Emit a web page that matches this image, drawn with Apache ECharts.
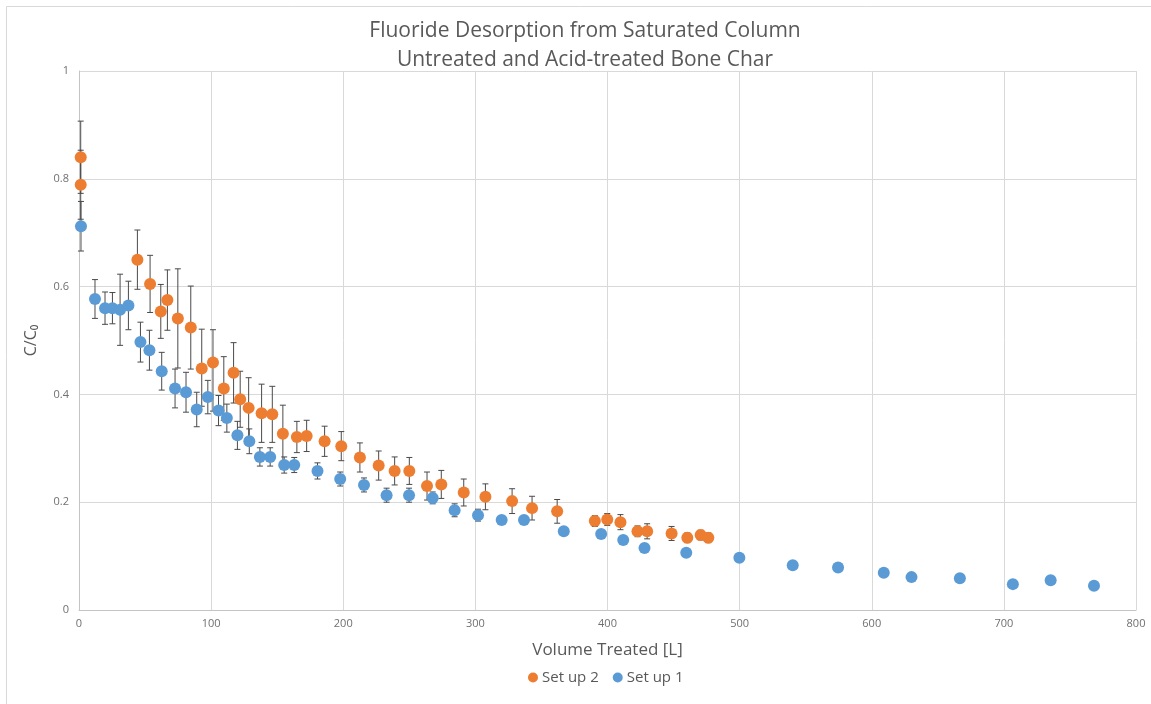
<!DOCTYPE html>
<html>
<head>
<meta charset="utf-8">
<title>Fluoride Desorption from Saturated Column</title>
<script src="https://cdn.jsdelivr.net/npm/echarts@6/dist/echarts.min.js"></script>
<style>
  html, body { margin: 0; padding: 0; background: #ffffff; }
  #chart { width: 1151px; height: 704px; }
</style>
</head>
<body>
<div id="chart"></div>
<script>
// Set up 1: volume treated [L], C/C0 and symmetric error
const setup1Volume = [1.5, 12.1, 19.7, 25.3, 31.1, 37.4, 46.5, 53.3, 62.6, 72.7,
  81.0, 89.1, 97.5, 105.6, 111.9, 119.9, 128.9, 136.9, 144.7, 155.3,
  162.9, 180.5, 197.7, 215.7, 232.8, 249.8, 267.7, 284.3, 302.0, 319.9,
  336.8, 366.9, 395.2, 411.9, 428.0, 459.6, 499.8, 540.2, 574.5, 609.1,
  630.1, 666.7, 706.8, 735.4, 768.2];
const setup1Ratio = [0.712, 0.577, 0.560, 0.560, 0.557, 0.565, 0.497, 0.482, 0.443, 0.411,
  0.404, 0.372, 0.395, 0.370, 0.356, 0.324, 0.313, 0.284, 0.284, 0.269,
  0.269, 0.258, 0.243, 0.232, 0.213, 0.213, 0.208, 0.185, 0.176, 0.167,
  0.167, 0.146, 0.141, 0.130, 0.115, 0.106, 0.097, 0.083, 0.079, 0.069,
  0.061, 0.059, 0.048, 0.055, 0.045];
const setup1Err = [0.046, 0.036, 0.030, 0.029, 0.066, 0.045, 0.037, 0.037, 0.035, 0.036,
  0.037, 0.032, 0.031, 0.028, 0.026, 0.026, 0.023, 0.017, 0.017, 0.015,
  0.014, 0.015, 0.013, 0.013, 0.013, 0.013, 0.011, 0.012, 0.011, 0.008,
  0.005, 0, 0, 0, 0, 0, 0, 0, 0, 0,
  0, 0, 0, 0, 0];

// Set up 2: volume treated [L], C/C0 and upper / lower error
const setup2Volume = [1.3, 1.3, 44.2, 53.8, 61.9, 66.9, 74.8, 84.6, 92.9, 101.4,
  109.6, 117.0, 122.0, 128.4, 138.2, 146.3, 154.3, 164.9, 172.3, 185.9,
  198.5, 212.6, 226.8, 238.9, 250.0, 263.4, 274.2, 291.2, 307.6, 327.8,
  342.9, 361.9, 390.4, 399.8, 409.8, 422.7, 430.0, 448.5, 460.4, 470.5,
  476.3];
const setup2Ratio = [0.840, 0.789, 0.650, 0.605, 0.554, 0.575, 0.541, 0.524, 0.448, 0.459,
  0.411, 0.440, 0.391, 0.375, 0.365, 0.363, 0.327, 0.321, 0.323, 0.313,
  0.304, 0.283, 0.268, 0.258, 0.258, 0.230, 0.233, 0.218, 0.210, 0.202,
  0.189, 0.183, 0.165, 0.168, 0.163, 0.146, 0.146, 0.142, 0.134, 0.139,
  0.134];
const setup2ErrUp = [0.067, 0.064, 0.055, 0.053, 0.050, 0.056, 0.092, 0.077, 0.073, 0.061,
  0.059, 0.056, 0.052, 0.056, 0.054, 0.052, 0.053, 0.029, 0.029, 0.028,
  0.027, 0.027, 0.027, 0.026, 0.025, 0.026, 0.026, 0.025, 0.024, 0.023,
  0.022, 0.022, 0.010, 0.011, 0.014, 0.010, 0.014, 0.013, 0.009, 0.009,
  0.009];
const setup2ErrDown = [0.067, 0.064, 0.055, 0.053, 0.050, 0.056, 0.092, 0.077, 0.070, 0.090,
  0.059, 0.056, 0.052, 0.056, 0.054, 0.052, 0.053, 0.029, 0.029, 0.028,
  0.027, 0.027, 0.027, 0.026, 0.025, 0.026, 0.026, 0.025, 0.024, 0.023,
  0.022, 0.022, 0.010, 0.011, 0.014, 0.010, 0.014, 0.013, 0.009, 0.009,
  0.009];

const xTicks = { min: 0, max: 800, interval: 100 };
const yTicks = { min: 0, max: 1, interval: 0.2 };

const titleLines = ['Fluoride Desorption from Saturated Column', 'Untreated and Acid-treated Bone Char'];
const xAxisTitle = 'Volume Treated [L]';
const yAxisTitle = 'C/C\u2080';
const seriesNames = ['Set up 2', 'Set up 1'];

const ORANGE = '#ED7D31';
const BLUE = '#5B9BD5';
const TEXT = '#595959';
const FONT = '"Open Sans", "Liberation Sans", sans-serif';

const pairs = (xs, ys) => xs.map((x, i) => [x, ys[i]]);
const bars = (xs, ys, up, down) => xs.map((x, i) => [x, ys[i] - down[i], ys[i] + up[i]]);

// Vertical error bar with short caps at both ends
function renderErrorBar(params, api) {
  const x = api.value(0);
  const lo = api.value(1);
  const hi = api.value(2);
  if (hi - lo <= 0) return null;
  const top = api.coord([x, hi]);
  const bottom = api.coord([x, lo]);
  const half = 3;
  const style = { stroke: '#4a4a4a', lineWidth: 1 };
  return {
    type: 'group',
    children: [
      { type: 'line', shape: { x1: top[0], y1: top[1], x2: bottom[0], y2: bottom[1] }, style },
      { type: 'line', shape: { x1: top[0] - half, y1: top[1], x2: top[0] + half, y2: top[1] }, style },
      { type: 'line', shape: { x1: bottom[0] - half, y1: bottom[1], x2: bottom[0] + half, y2: bottom[1] }, style }
    ]
  };
}

const chart = echarts.init(document.getElementById('chart'), null, { renderer: 'canvas' });

chart.setOption({
  animation: false,
  backgroundColor: '#ffffff',
  textStyle: { fontFamily: FONT },
  graphic: [
    {
      type: 'rect',
      silent: true,
      shape: { x: 6.5, y: 6.5, width: 1170, height: 720 },
      style: { fill: 'none', stroke: '#d9d9d9', lineWidth: 1 }
    },
    {
      type: 'text',
      silent: true,
      x: 585, y: 31,
      style: {
        text: titleLines[0], align: 'center', verticalAlign: 'middle',
        fill: TEXT, font: '21px ' + FONT
      }
    },
    {
      type: 'text',
      silent: true,
      x: 585, y: 60,
      style: {
        text: titleLines[1], align: 'center', verticalAlign: 'middle',
        fill: TEXT, font: '21px ' + FONT
      }
    }
  ],
  legend: {
    data: seriesNames,
    left: 528,
    top: 670,
    padding: 0,
    icon: 'circle',
    itemWidth: 10,
    itemHeight: 10,
    itemGap: 14,
    textStyle: { color: TEXT, fontSize: 15, fontFamily: FONT, padding: [0, 0, 0, -1] }
  },
  grid: { left: 79, right: 15, top: 71, bottom: 94, containLabel: false, outerBoundsMode: 'none' },
  xAxis: {
    type: 'value',
    min: xTicks.min, max: xTicks.max, interval: xTicks.interval,
    name: xAxisTitle,
    nameLocation: 'middle',
    nameGap: 32,
    nameTextStyle: { color: TEXT, fontSize: 17, fontFamily: FONT },
    axisLine: { show: true, lineStyle: { color: '#c4c4c4', width: 1 } },
    axisTick: { show: false },
    axisLabel: { color: '#707070', fontSize: 11, margin: 8, fontFamily: FONT },
    splitLine: { show: true, lineStyle: { color: '#d9d9d9', width: 1 } }
  },
  yAxis: {
    type: 'value',
    min: yTicks.min, max: yTicks.max, interval: yTicks.interval,
    name: yAxisTitle,
    nameLocation: 'middle',
    nameRotate: 90,
    nameGap: 40,
    nameTextStyle: { color: TEXT, fontSize: 16, fontFamily: FONT },
    axisLine: { show: true, lineStyle: { color: '#c4c4c4', width: 1 } },
    axisTick: { show: false },
    axisLabel: { color: '#707070', fontSize: 11, margin: 10, fontFamily: FONT },
    splitLine: { show: true, lineStyle: { color: '#d9d9d9', width: 1 } }
  },
  series: [
    {
      name: seriesNames[0] + ' error',
      type: 'custom',
      renderItem: renderErrorBar,
      data: bars(setup2Volume, setup2Ratio, setup2ErrUp, setup2ErrDown),
      z: 3,
      silent: true
    },
    {
      name: seriesNames[1] + ' error',
      type: 'custom',
      renderItem: renderErrorBar,
      data: bars(setup1Volume, setup1Ratio, setup1Err, setup1Err),
      z: 3,
      silent: true
    },
    {
      name: seriesNames[0],
      type: 'scatter',
      data: pairs(setup2Volume, setup2Ratio),
      symbol: 'circle',
      symbolSize: 12,
      itemStyle: { color: ORANGE, opacity: 1 },
      z: 4
    },
    {
      name: seriesNames[1],
      type: 'scatter',
      data: pairs(setup1Volume, setup1Ratio),
      symbol: 'circle',
      symbolSize: 12,
      itemStyle: { color: BLUE, opacity: 1 },
      z: 5
    }
  ]
});
</script>
</body>
</html>
